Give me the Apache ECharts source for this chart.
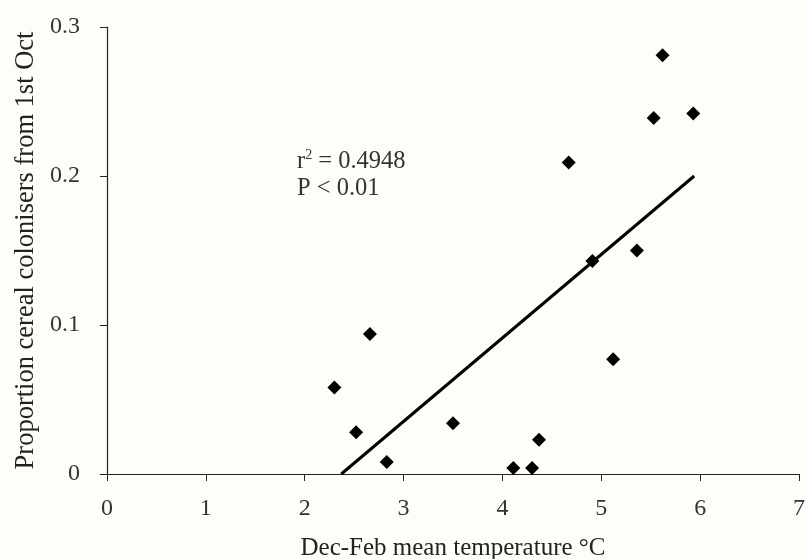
<!DOCTYPE html>
<html>
<head>
<meta charset="utf-8">
<script src="https://cdn.jsdelivr.net/npm/echarts@6/dist/echarts.min.js"></script>
<style>
  html, body { margin: 0; padding: 0; background: #fefef9; }
  #chart { width: 806px; height: 559px; }
</style>
</head>
<body>
<div id="chart"></div>
<script>
var chart = echarts.init(document.getElementById('chart'));

// Dec-Feb mean temperature (°C) vs proportion of cereal colonisers
var temps = [2.30, 2.52, 2.66, 2.83, 3.50, 4.11, 4.30, 4.37, 4.67, 4.91, 5.12, 5.36, 5.53, 5.62, 5.93];
var props = [0.058, 0.028, 0.094, 0.008, 0.034, 0.004, 0.004, 0.023, 0.209, 0.143, 0.077, 0.150, 0.239, 0.281, 0.242];

// regression line end points
var fitX = [2.37, 5.94];
var fitY = [0.0, 0.200];

var xTicks = ['0', '1', '2', '3', '4', '5', '6', '7'];
var yTicks = ['0', '0.1', '0.2', '0.3'];

var points = [];
for (var i = 0; i < temps.length; i++) {
    points.push([temps[i], props[i]]);
}
var fitLine = [];
for (var j = 0; j < fitX.length; j++) {
    fitLine.push([fitX[j], fitY[j]]);
}

var serif = '"Liberation Serif", "DejaVu Serif", serif';

option = {
    backgroundColor: '#fefef9',
    animation: false,
    grid: {
        left: 107,
        right: 7,
        top: 27,
        bottom: 85,
        containLabel: false,
        outerBoundsMode: 'none'
    },
    xAxis: {
        type: 'value',
        min: 0,
        max: 7,
        interval: 1,
        name: 'Dec-Feb mean temperature \u00B0C',
        nameLocation: 'middle',
        nameGap: 62,
        nameTextStyle: { fontFamily: serif, fontSize: 25, color: '#222' },
        axisLine: { onZero: false, lineStyle: { color: '#222', width: 1.2 } },
        axisTick: { length: 7, lineStyle: { color: '#222' } },
        axisLabel: {
            margin: 23,
            fontFamily: serif, fontSize: 24, color: '#333',
            formatter: function (v) { return xTicks[Math.round(v)]; }
        },
        splitLine: { show: false }
    },
    yAxis: {
        type: 'value',
        min: 0,
        max: 0.3,
        interval: 0.1,
        name: 'Proportion cereal colonisers from 1st Oct',
        nameLocation: 'middle',
        nameGap: 67,
        nameTextStyle: { fontFamily: serif, fontSize: 26.5, color: '#222' },
        axisLine: { show: true, lineStyle: { color: '#222', width: 1.2 } },
        axisTick: { show: true, length: 7, lineStyle: { color: '#222' } },
        axisLabel: {
            margin: 27,
            fontFamily: serif, fontSize: 24, color: '#333',
            formatter: function (v) { return yTicks[Math.round(v * 10)]; }
        },
        splitLine: { show: false }
    },
    graphic: [
        {
            type: 'text',
            left: 297,
            top: 148,
            style: {
                text: '{b|r}{s|2}{b| = 0.4948}\n{b|P < 0.01}',
                rich: {
                    b: { fontFamily: serif, fontSize: 24.5, fill: '#333', lineHeight: 27 },
                    s: { fontFamily: serif, fontSize: 14, fill: '#333', verticalAlign: 'top', lineHeight: 27, padding: [0, 0, 10, 0] }
                }
            }
        }
    ],
    series: [
        {
            name: 'fit',
            type: 'line',
            data: fitLine,
            symbol: 'none',
            lineStyle: { color: '#000', width: 3 },
            z: 2
        },
        {
            name: 'data',
            type: 'scatter',
            data: points,
            symbol: 'diamond',
            symbolSize: [14, 14],
            itemStyle: { color: '#000', opacity: 1 },
            z: 3
        }
    ]
};

if (option && typeof option === "object") {
    chart.setOption(option, true);
}
</script>
</body>
</html>
